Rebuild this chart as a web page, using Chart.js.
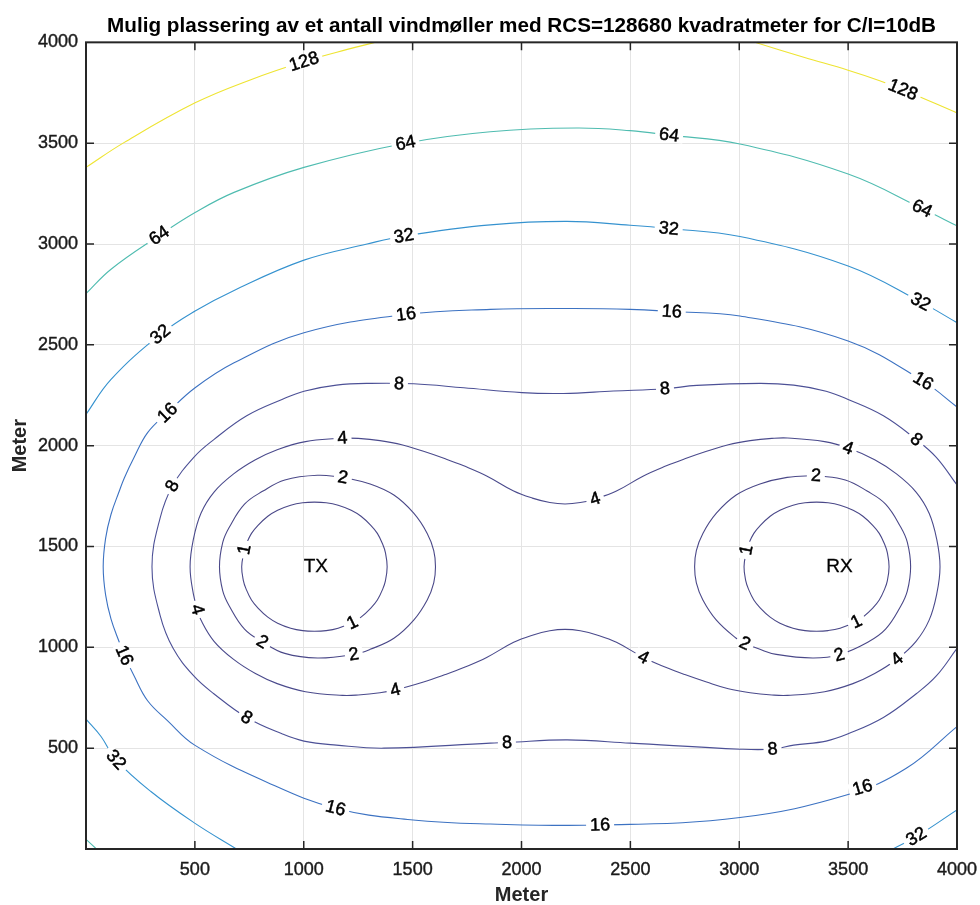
<!DOCTYPE html>
<html>
<head>
<meta charset="utf-8">
<title>Vindmøller RCS kontur</title>
<script src="https://cdn.jsdelivr.net/npm/chart.js@4.4.0/dist/chart.umd.min.js"></script>
<style>
  html, body { margin: 0; padding: 0; background: #fff; }
</style>
</head>
<body>
<canvas id="contourChart" width="980" height="905"></canvas>
<script>
// contour levels and the curves, in metres [x, y]
const levels = [1, 2, 4, 8, 16, 32, 64, 128];

const c128Left = [[0,3380],[176,3504],[501,3700],[757,3815],[1001,3905],[1200,3965],[1330,4000]];
const c128Right = [[3072,4000],[3300,3925],[3500,3862],[3645,3810],[3752,3765],[4000,3650]];

const c64Top = [[0,2754],[115,2875],[336,3042],[501,3156],[680,3256],[1001,3380],[1467,3500],
  [1857,3557],[2254,3575],[2499,3562],[2678,3540],[3003,3496],[3500,3347],[3840,3176],[4000,3090]];
const c64Corner = [[0,48],[48,0]];

const c32Top = [[0,2155],[115,2329],[341,2552],[501,2668],[680,2770],[1001,2920],[1291,3000],[1460,3040],
  [1857,3095],[2209,3112],[2499,3093],[2676,3077],[3003,3037],[3500,2891],[3833,2713],[4000,2610]];
const c32Left = [[0,644],[69,558],[138,442],[298,285],[501,127],[691,0]];
const c32Right = [[3706,0],[3813,61],[4000,194]];

const c16 = [[4000,2192],[3844,2320],[3500,2519],[3003,2643],[2690,2665],[2499,2676],[2239,2680],[1857,2676],
  [1470,2651],[1001,2560],[680,2411],[501,2287],[374,2163],[283,2065],[220,1940],[176,1840],[153,1775],
  [115,1660],[90,1540],[79,1400],[90,1260],[115,1140],[153,1025],[176,960],[220,860],[283,735],[374,637],
  [501,514],[833,330],[1146,202],[1502,144],[1857,124],[2361,119],[3003,156],[3500,270],[3767,400],[4000,607]];

const c8 = [[4000,1805],[3905,1942],[3813,2030],[3662,2148],[3500,2229],[3399,2270],[3250,2300],[3095,2309],
  [2805,2299],[2659,2282],[2422,2271],[2193,2259],[2002,2263],[1735,2287],[1505,2307],[1305,2309],[1150,2300],
  [1001,2270],[900,2229],[738,2148],[587,2030],[495,1942],[397,1800],[340,1640],[303,1400],[340,1160],[400,995],
  [495,858],[587,770],[738,652],[900,571],[1001,535],[1150,515],[1368,500],[1857,525],[1933,528],[2209,541],
  [2499,525],[3003,495],[3153,495],[3250,515],[3399,535],[3500,571],[3662,652],[3813,770],[3905,858],[4000,995]];

const c4 = [[1178,2038],[1250,2036],[1350,2025],[1450,2005],[1550,1972],[1650,1935],[1735,1900],[1840,1850],
  [1964,1775],[2050,1740],[2130,1718],[2200,1711],[2270,1718],[2338,1736],[2436,1775],[2560,1850],[2665,1900],
  [2750,1935],[2850,1972],[2950,2005],[3050,2025],[3150,2036],[3222,2038],[3392,2020],[3500,1988],[3622,1930],
  [3722,1860],[3812,1770],[3872,1665],[3907,1535],[3922,1400],[3907,1265],[3872,1135],[3812,1030],[3725,942],
  [3622,870],[3522,820],[3392,780],[3222,762],[3150,764],[3050,775],[2950,795],[2850,828],[2750,865],[2665,900],
  [2560,950],[2436,1025],[2350,1060],[2270,1082],[2200,1089],[2130,1082],[2050,1060],[1964,1025],[1840,950],
  [1735,900],[1650,865],[1550,828],[1421,789],[1350,775],[1250,764],[1178,762],[1008,780],[878,820],[778,870],
  [678,940],[588,1030],[528,1135],[512,1188],[493,1265],[478,1400],[493,1535],[528,1665],[588,1770],[678,1860],
  [778,1930],[878,1980],[1008,2020],[1178,2038]];

const c2Tx = [[1180,1843],[1305,1810],[1414,1755],[1505,1665],[1567,1565],[1597,1480],[1605,1400],[1597,1320],
  [1567,1235],[1505,1135],[1414,1045],[1305,990],[1230,965],[1063,947],[913,970],[810,1027],[728,1090],
  [658,1205],[628,1280],[613,1400],[628,1520],[658,1595],[728,1710],[813,1775],[913,1830],[1063,1853],[1180,1843]];
const c2Rx = [[3352,1852],[3487,1830],[3587,1775],[3672,1710],[3742,1595],[3772,1520],[3787,1400],[3772,1280],
  [3742,1205],[3672,1090],[3590,1025],[3459,963],[3337,947],[3170,965],[3095,990],[3026,1020],[2986,1045],
  [2895,1135],[2833,1235],[2803,1320],[2795,1400],[2803,1480],[2833,1565],[2895,1665],[2986,1755],[3095,1810],
  [3220,1843],[3352,1852]];

const c1Tx = [[727,1485],[735,1510],[760,1565],[790,1605],[835,1650],[880,1680],[940,1705],[995,1717],[1049,1720],
  [1103,1717],[1158,1705],[1218,1680],[1263,1650],[1308,1605],[1338,1565],[1363,1510],[1375,1470],[1383,1400],
  [1375,1330],[1363,1290],[1338,1235],[1308,1195],[1263,1150],[1223,1123],[1158,1095],[1103,1083],[1049,1080],
  [995,1083],[940,1095],[880,1120],[835,1150],[790,1195],[760,1235],[735,1290],[723,1330],[715,1400],[727,1485]];
const c1Rx = [[3033,1482],[3042,1510],[3067,1565],[3097,1605],[3142,1650],[3187,1680],[3247,1705],[3302,1717],
  [3355,1720],[3408,1717],[3463,1705],[3523,1680],[3568,1650],[3613,1605],[3643,1565],[3668,1510],[3680,1470],
  [3688,1400],[3680,1330],[3668,1290],[3643,1235],[3613,1195],[3568,1150],[3538,1128],[3463,1095],[3408,1083],
  [3355,1080],[3302,1083],[3247,1095],[3187,1120],[3142,1150],[3097,1195],[3067,1235],[3042,1290],[3030,1330],
  [3022,1400],[3033,1482]];

// [level, x, y] of each inline contour label
const contourLabels = [
  [128,1001,3905],[128,3752,3765],
  [64,336,3042],[64,1467,3500],[64,2678,3540],[64,3840,3176],
  [32,341,2552],[32,1460,3040],[32,2676,3077],[32,3833,2713],[32,138,442],[32,3813,61],
  [16,374,2163],[16,1470,2651],[16,2690,2665],[16,3844,2320],[16,176,960],[16,1146,202],[16,2361,119],[16,3566,305],
  [8,1437,2307],[8,2659,2282],[8,3813,2030],[8,397,1800],[8,738,652],[8,1933,528],[8,3153,495],
  [4,1178,2038],[4,512,1188],[4,1421,789],[4,2338,1736],[4,2560,950],[4,3500,1988],[4,3725,942],
  [2,1180,1843],[2,810,1027],[2,1230,965],[2,3352,1852],[2,3026,1020],[2,3459,963],
  [1,727,1485],[1,1223,1123],[1,3033,1482],[1,3538,1128]
];

const stationNames = ['TX', 'RX'];
const stationX = [1000, 3400];
const stationY = [1400, 1400];

// line colour per level (parula, as it shows on the thin lines)
const levelColors = {1:'#4a4888', 2:'#4a4888', 4:'#4a4a8c', 8:'#4c5096', 16:'#3c72c2', 32:'#3592cf', 64:'#4fbcb0', 128:'#eee431'};

const FONT = '"Liberation Sans", Arial, Helvetica, sans-serif';
Chart.defaults.font.family = FONT;

const curves = [
  [128, c128Left], [128, c128Right],
  [64, c64Top], [64, c64Corner],
  [32, c32Top], [32, c32Left], [32, c32Right],
  [16, c16], [8, c8], [4, c4],
  [2, c2Tx], [2, c2Rx], [1, c1Tx], [1, c1Rx]
];

const datasets = curves.map(([lvl, pts]) => {
  const first = pts[0], last = pts[pts.length - 1];
  return {
    label: String(lvl),
    level: lvl,
    closed: first[0] === last[0] && first[1] === last[1],
    data: pts.map(([x, y]) => ({x, y})),
    showLine: true,
    borderColor: levelColors[lvl],
    borderWidth: 1.1,
    pointRadius: 0,
    tension: 0.4
  };
});

const contourLabelPlugin = {
  id: 'contourLabels',
  afterDatasetsDraw(chart) {
    const {ctx} = chart;
    const xs = chart.scales.x, ys = chart.scales.y;
    ctx.save();
    ctx.font = '18px ' + FONT;
    ctx.textAlign = 'center';
    ctx.textBaseline = 'middle';
    ctx.lineWidth = 0.5;
    ctx.strokeStyle = '#000000';
    contourLabels.forEach(([lvl, lx, ly]) => {
      const px = xs.getPixelForValue(lx), py = ys.getPixelForValue(ly);
      let best = null;
      chart.data.datasets.forEach((ds, di) => {
        if (ds.level !== lvl) return;
        const pts = chart.getDatasetMeta(di).data;
        pts.forEach((p, i) => {
          const d = (p.x - px) ** 2 + (p.y - py) ** 2;
          if (!best || d < best.d) best = {d, pts, i, closed: ds.closed};
        });
      });
      let angle = 0;
      if (best) {
        const {pts, i, closed} = best;
        const n = pts.length;
        const a = i > 0 ? pts[i - 1] : (closed ? pts[n - 2] : pts[i]);
        const b = i < n - 1 ? pts[i + 1] : (closed ? pts[1] : pts[i]);
        angle = Math.atan2(b.y - a.y, b.x - a.x);
        if (angle > Math.PI / 2) angle -= Math.PI;
        if (angle <= -Math.PI / 2) angle += Math.PI;
      }
      const text = String(lvl);
      const w = ctx.measureText(text).width;
      ctx.save();
      ctx.translate(px, py);
      ctx.rotate(angle);
      ctx.fillStyle = '#ffffff';
      ctx.fillRect(-w / 2 - 4, -7, w + 8, 14);
      ctx.fillStyle = '#000000';
      ctx.fillText(text, 0, 0.5);
      ctx.strokeText(text, 0, 0.5);
      ctx.restore();
    });

    ctx.font = '19px ' + FONT;
    ctx.textAlign = 'left';
    ctx.fillStyle = '#000000';
    ctx.lineWidth = 0.3;
    stationNames.forEach((name, i) => {
      const px = xs.getPixelForValue(stationX[i]), py = ys.getPixelForValue(stationY[i]);
      ctx.fillText(name, px, py);
      ctx.strokeText(name, px, py);
    });
    ctx.restore();
  }
};

const framePlugin = {
  id: 'frame',
  afterDraw(chart) {
    const {ctx, chartArea: {left, right, top, bottom}} = chart;
    const xs = chart.scales.x, ys = chart.scales.y;
    ctx.save();
    ctx.strokeStyle = '#262626';
    ctx.lineWidth = 1.5;
    ctx.beginPath();
    xs.ticks.forEach(t => {
      if (t.value <= xs.min || t.value >= xs.max) return;
      const p = xs.getPixelForValue(t.value);
      ctx.moveTo(p, bottom); ctx.lineTo(p, bottom - 8);
      ctx.moveTo(p, top); ctx.lineTo(p, top + 8);
    });
    ys.ticks.forEach(t => {
      if (t.value <= ys.min || t.value >= ys.max) return;
      const p = ys.getPixelForValue(t.value);
      ctx.moveTo(left, p); ctx.lineTo(left + 8, p);
      ctx.moveTo(right, p); ctx.lineTo(right - 8, p);
    });
    ctx.stroke();
    ctx.lineWidth = 2;
    ctx.strokeRect(left, top, right - left, bottom - top);
    ctx.restore();
  }
};

const tickFont = {family: FONT, size: 18};
const gridColor = '#e4e4e4';

new Chart('contourChart', {
  type: 'scatter',
  data: {datasets: datasets},
  options: {
    responsive: false,
    animation: false,
    devicePixelRatio: 1,
    layout: {padding: {top: 0, right: 23, bottom: 0, left: 0}},
    elements: {line: {capBezierPoints: false}, point: {radius: 0}},
    plugins: {
      legend: {display: false},
      tooltip: {enabled: false},
      title: {
        display: true,
        fullSize: false,
        text: 'Mulig plassering av et antall vindmøller med RCS=128680 kvadratmeter for C/I=10dB',
        color: '#000000',
        font: {family: FONT, size: 20.7, weight: 'bold', lineHeight: 1.2},
        padding: {top: 13.4, bottom: 4.1}
      }
    },
    scales: {
      x: {
        type: 'linear', min: 0, max: 4000, position: 'bottom',
        ticks: {stepSize: 500, padding: 10, color: '#1a1a1a', font: tickFont, maxRotation: 0,
          textStrokeColor: '#1a1a1a', textStrokeWidth: 0.4,
          callback: v => v === 0 ? '' : v},
        grid: {color: gridColor, drawTicks: false},
        border: {display: false},
        title: {display: true, text: 'Meter', color: '#262626',
          font: {family: FONT, size: 20, weight: 'bold', lineHeight: 1}, padding: 0},
        afterFit: s => { s.height = 56; s.paddingLeft = 0; s.paddingRight = 0; }
      },
      y: {
        type: 'linear', min: 0, max: 4000, position: 'left',
        ticks: {stepSize: 500, padding: 8, color: '#1a1a1a', font: tickFont,
          textStrokeColor: '#1a1a1a', textStrokeWidth: 0.4,
          callback: v => v === 0 ? '' : v},
        grid: {color: gridColor, drawTicks: false},
        border: {display: false},
        title: {display: true, text: 'Meter', color: '#262626',
          font: {family: FONT, size: 20, weight: 'bold', lineHeight: 1}, padding: {top: 10, bottom: 0}},
        afterFit: s => { s.width = 86; s.paddingTop = 0; s.paddingBottom = 0; }
      }
    }
  },
  plugins: [contourLabelPlugin, framePlugin]
});
</script>
</body>
</html>
